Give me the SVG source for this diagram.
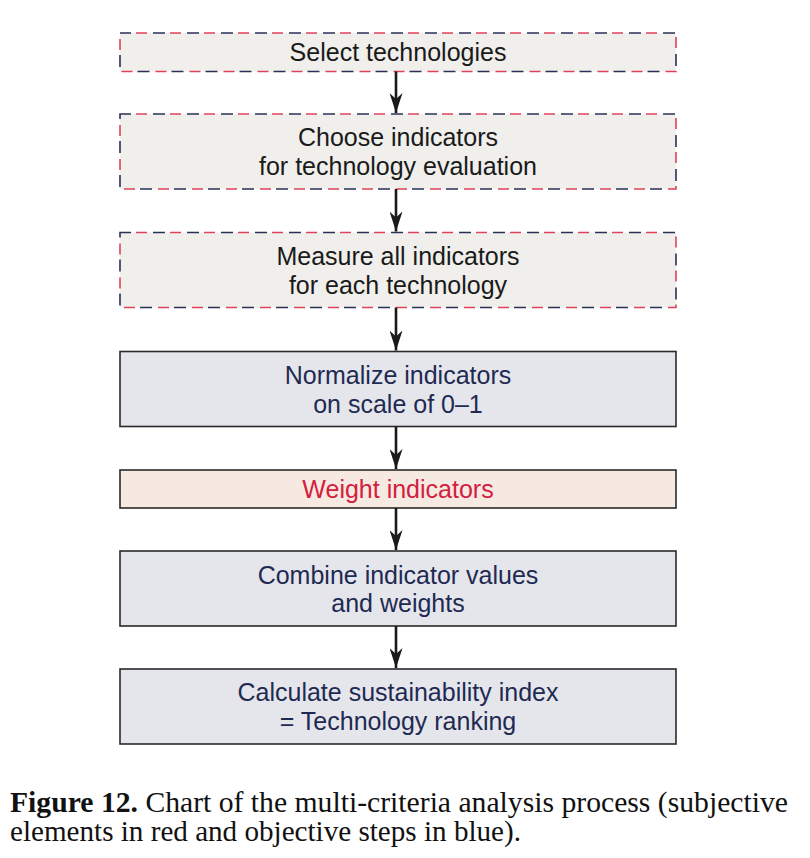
<svg xmlns="http://www.w3.org/2000/svg" width="810" height="858" viewBox="0 0 810 858">
<defs>
<style>
.bg{fill:#ffffff}
.sub{fill:#f0efec;stroke:none}
.dn{fill:none;stroke:#2c2f58;stroke-width:1.6;stroke-dasharray:12 22;stroke-dashoffset:1}
.dr{fill:none;stroke:#e0425c;stroke-width:1.6;stroke-dasharray:11 23;stroke-dashoffset:18}
.obj{fill:#e5e6ec;stroke:#2a2a2a;stroke-width:1.6}
.wt{fill:#f6e9e1;stroke:#2a2a2a;stroke-width:1.6}
.t{font-family:"Liberation Sans",Arial,sans-serif;font-size:25px;text-anchor:middle}
.tk{fill:#1a1a1a}
.tb{fill:#1f2a52}
.tr{fill:#d2203f}
.conn line{stroke:#1a1a1a;stroke-width:2.6}
.cap{font-family:"Liberation Serif","Times New Roman",serif;font-size:29px;fill:#111}
</style>
<marker id="ah" markerUnits="userSpaceOnUse" markerWidth="20" markerHeight="13" viewBox="0 0 20 13" refX="20" refY="6.5" orient="auto">
<path d="M0,0 L20,6.5 L0,13 L6,6.5 Z" fill="#1a1a1a"/>
</marker>
</defs>
<rect class="bg" x="0" y="0" width="810" height="858"/>

<g id="n1">
<rect class="sub" x="120" y="33" width="556" height="38.5"/>
<rect class="dn" x="120" y="33" width="556" height="38.5"/>
<rect class="dr" x="120" y="33" width="556" height="38.5"/>
<text class="t tk" x="398" y="61">Select technologies</text>
</g>

<g id="n2">
<rect class="sub" x="120" y="114" width="556" height="75"/>
<rect class="dn" x="120" y="114" width="556" height="75"/>
<rect class="dr" x="120" y="114" width="556" height="75"/>
<text class="t tk" x="398" y="146">Choose indicators</text>
<text class="t tk" x="398" y="175">for technology evaluation</text>
</g>

<g id="n3">
<rect class="sub" x="120" y="232.5" width="556" height="75"/>
<rect class="dn" x="120" y="232.5" width="556" height="75"/>
<rect class="dr" x="120" y="232.5" width="556" height="75"/>
<text class="t tk" x="398" y="264.5">Measure all indicators</text>
<text class="t tk" x="398" y="293.5">for each technology</text>
</g>

<g id="n4">
<rect class="obj" x="120" y="351.5" width="556" height="75"/>
<text class="t tb" x="398" y="383.5">Normalize indicators</text>
<text class="t tb" x="398" y="412.5">on scale of 0–1</text>
</g>

<g id="n5">
<rect class="wt" x="120" y="470" width="556" height="38"/>
<text class="t tr" x="398" y="497.5">Weight indicators</text>
</g>

<g id="n6">
<rect class="obj" x="120" y="551" width="556" height="75"/>
<text class="t tb" x="398" y="583.5">Combine indicator values</text>
<text class="t tb" x="398" y="611.5">and weights</text>
</g>

<g id="n7">
<rect class="obj" x="120" y="669" width="556" height="75"/>
<text class="t tb" x="398" y="700.5">Calculate sustainability index</text>
<text class="t tb" x="398" y="729.5">= Technology ranking</text>
</g>

<g id="connectors" class="conn">
<line x1="396" y1="71.5" x2="396" y2="113" marker-end="url(#ah)"/>
<line x1="396" y1="189" x2="396" y2="231.5" marker-end="url(#ah)"/>
<line x1="396" y1="307.5" x2="396" y2="350.5" marker-end="url(#ah)"/>
<line x1="396" y1="426.5" x2="396" y2="469" marker-end="url(#ah)"/>
<line x1="396" y1="508" x2="396" y2="550" marker-end="url(#ah)"/>
<line x1="396" y1="626" x2="396" y2="668" marker-end="url(#ah)"/>
</g>

<g id="caption">
<text class="cap" x="10" y="812" textLength="778" lengthAdjust="spacingAndGlyphs"><tspan font-weight="bold">Figure 12.</tspan>  Chart of the multi-criteria analysis process (subjective</text>
<text class="cap" x="10" y="841" textLength="511" lengthAdjust="spacingAndGlyphs">elements in red and objective steps in blue).</text>
</g>
</svg>
